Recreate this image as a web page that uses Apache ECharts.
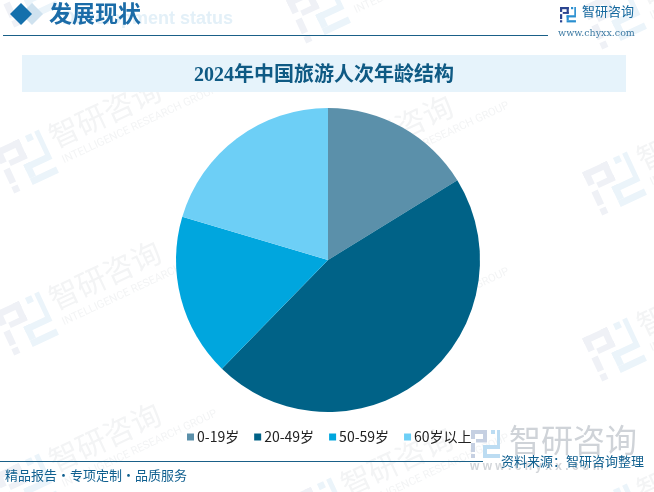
<!DOCTYPE html>
<html><head><meta charset="utf-8">
<style>html,body{margin:0;padding:0;background:#fff}#c{width:654px;height:492px}</style>
<script src="https://cdn.jsdelivr.net/npm/echarts@6/dist/echarts.min.js"></script>
</head><body><div id="c"></div>
<script>
const categories = ['0-19岁','20-49岁','50-59岁','60岁以上'];
const values = [16.2,46.1,17.3,20.4];
const colors = ['#5b90aa','#006287','#00a6de','#6dcff6'];
const chartTitle = '2024年中国旅游人次年龄结构';
const heading = '发展现状';
const headingEn = 'Development status';
const brand = '智研咨询';
const brandEn = 'INTELLIGENCE RESEARCH GROUP';
const site = 'www.chyxx.com';
const source = '资料来源：智研咨询整理';
const footer = '精品报告·专项定制·品质服务';
const wmAnchors = [[26,-4],[26,162],[26,324],[26,486],[318,12],[318,178],[318,344],[318,510],[614,18],[614,184],[614,350],[614,516]];

const cjk = '"Noto Sans CJK SC",sans-serif';
const serif = '"Liberation Serif","Noto Sans CJK SC",serif';

function logoRects(x,y,s,c1,c2){
  const R=(a,b,w,h,f)=>({type:'rect',silent:true,shape:{x:x+a*s,y:y+b*s,width:w*s,height:h*s},style:{fill:f}});
  return [
    R(0,0,16,4,c1),R(12,0,4,12,c1),R(0,0,4,9,c1),R(5,9,11,3.5,c1),R(0,13,4,9,c1),R(0,24,4,4,c1),
    R(20,0,4,4,c2),R(26,0,3,16,c2),R(12,15,17,4,c2),R(12,15,4,9,c2),R(12,24,17,4,c2)
  ];
}
function watermark(ax,ay){
  const tc='#f3f4f5';
  return {type:'group',x:ax,y:ay,rotation:25*Math.PI/180,silent:true,z:0,children:[
    ...logoRects(-24,-24,1.7,'#eff1f6','#ebf4fa'),
    {type:'text',x:32,y:-26,style:{text:brand,font:'30px '+cjk,fill:tc,letterSpacing:9}},
    {type:'text',x:34,y:9,style:{text:brandEn,font:'11px Roboto,sans-serif',fill:tc}}
  ]};
}

const graphic = [
  ...wmAnchors.map(a=>watermark(a[0],a[1])),
  {type:'text',x:62,y:10,z:1,silent:true,style:{text:headingEn,font:'bold 18px "Liberation Sans",sans-serif',fill:'#e3f0f8'}},
  {type:'polygon',z:2,silent:true,shape:{points:[[32,3],[21,14],[32,25],[43,14]]},style:{fill:'#cfe2ef'}},
  {type:'polygon',z:3,silent:true,shape:{points:[[21,3],[10,14],[21,25],[32,14]]},style:{fill:'#1470ac'}},
  {type:'text',x:49,y:2,z:4,silent:true,style:{text:heading,font:'bold 23px '+cjk,fill:'#1b6ca8'}},
  {type:'rect',z:2,silent:true,shape:{x:3,y:35,width:545,height:1},style:{fill:'#1a6088'}},
  {type:'rect',z:2,silent:true,shape:{x:22,y:55,width:604,height:37},style:{fill:'#e6f3fb'}},
  ...logoRects(560,7,0.55,'#2c4590','#2a8fd0').map(o=>({...o,z:3})),
  {type:'text',x:582,y:5,z:3,silent:true,style:{text:brand,font:'13px '+cjk,fill:'#14689e',letterSpacing:1}},
  {type:'text',x:558,y:29,z:3,silent:true,style:{text:site,font:'9.5px "DejaVu Serif",serif',fill:'#3d7aa3'}},
  {type:'rect',z:2,silent:true,shape:{x:0,y:461,width:483,height:1},style:{fill:'#1a6088'}},
  ...logoRects(471,430,1,'#c6d0e2','#bcdcf2').map(o=>({...o,z:2})),
  {type:'text',x:509,y:424,z:2,silent:true,style:{text:brand,font:'32px '+cjk,fill:'#cfd3d8',letterSpacing:0}},
  {type:'text',x:470,y:461,z:2,silent:true,style:{text:'w w w . c h y x x . c o m',font:'bold 12px "Liberation Sans",sans-serif',fill:'#d3d6da'}},
  {type:'text',x:501,y:455,z:5,silent:true,style:{text:source,font:'13px '+cjk,fill:'#0f5f8f',letterSpacing:0.8}},
  {type:'text',x:5,y:469,z:5,silent:true,style:{text:footer,font:'13px '+cjk,fill:'#0f5f8f',letterSpacing:0.15}}
];

const chart = echarts.init(document.getElementById('c'));
chart.setOption({
  animation:false,
  color:colors,
  title:{text:chartTitle,left:189,top:61,textStyle:{fontFamily:serif,fontSize:20,fontWeight:'bold',color:'#0f5a84'},z:6},
  legend:{data:categories,left:182,top:425,itemWidth:7,itemHeight:7,itemGap:15,icon:'rect',z:6,
    textStyle:{fontFamily:cjk,fontSize:14,color:'#222',padding:[0,0,0,-2]}},
  graphic:graphic,
  series:[{type:'pie',center:[328,260],radius:[0,152],startAngle:90,clockwise:true,z:4,
    label:{show:false},labelLine:{show:false},emphasis:{disabled:true},
    data:categories.map((n,i)=>({name:n,value:values[i]}))}]
});
</script></body></html>
